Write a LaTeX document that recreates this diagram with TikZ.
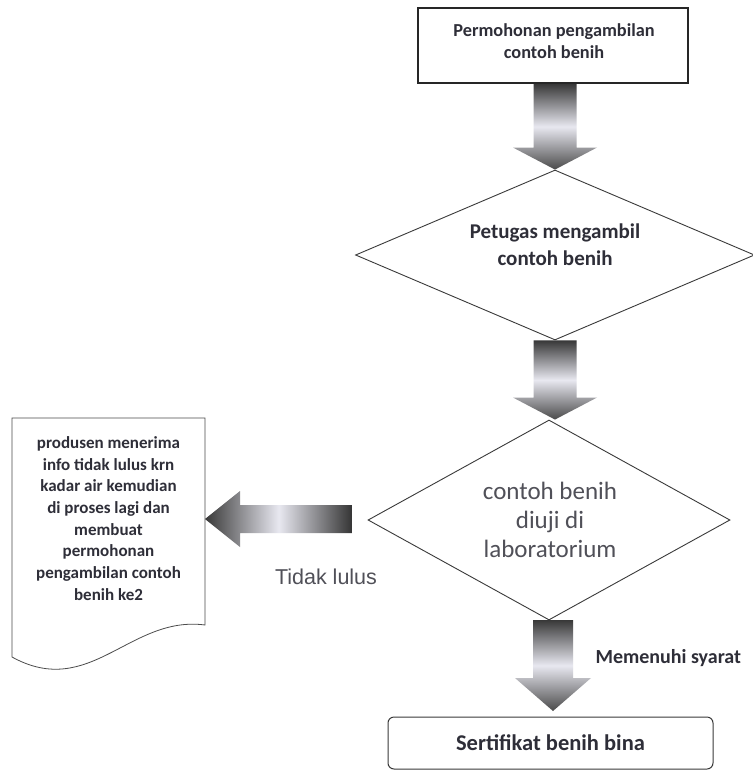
\documentclass[tikz,border=0pt]{standalone}
\usepackage{fontspec}
\setmainfont{Carlito}
\newfontfamily\arialish{Liberation Sans}
\usetikzlibrary{shapes.geometric,calc}

\definecolor{txt}{HTML}{2E2E38}
\definecolor{softtxt}{HTML}{505058}
\definecolor{edge}{HTML}{3A3A3A}
\definecolor{adark}{HTML}{383838}
\definecolor{alight}{HTML}{E8E8F0}
\definecolor{ahead}{HTML}{4A4A4A}

% shaded block arrow pointing down: start, tip, shaft half width, head half width, head length
\newcommand{\blockdown}[5]{%
  \shade[top color=adark, bottom color=ahead, middle color=alight]
    ($(#1)+(-#3,0)$) -- ($(#1)+(#3,0)$) -- ($(#2)+(#3,-#5)$) -- ($(#2)+(#4,-#5)$)
    -- (#2) -- ($(#2)+(-#4,-#5)$) -- ($(#2)+(-#3,-#5)$) -- cycle;}

\begin{document}
\begin{tikzpicture}[x=1pt, y=-1pt,
  boldtext/.style={font=\bfseries\fontsize{17}{21.7}\selectfont, text=txt, align=center},
  bigtext/.style={font=\fontsize{25}{29}\selectfont, text=softtxt, align=center},
  decision/.style={draw=edge, line width=0.9pt, shape=diamond, inner sep=0pt}]
\useasboundingbox (0,0) rectangle (753,772);
\fill[white] (0,0) rectangle (753,772);

% request box
\node[draw=black!85, line width=1.5pt, minimum width=270pt, minimum height=75pt] (req) at (553,45.5) {};
\node[boldtext, font=\bfseries\fontsize{18.3}{22}\selectfont] (reqtext) at (554,41) {Permohonan pengambilan\\contoh benih};

% officer takes the sample
\node[decision, minimum width=399pt, minimum height=170pt] (take) at (555,255) {};
\node[boldtext, font=\bfseries\fontsize{21}{27}\selectfont] (taketext) at (555,245) {Petugas mengambil\\contoh benih};

% laboratory test
\node[decision, minimum width=362pt, minimum height=200pt] (lab) at (549,520) {};
\node[bigtext] (labtext) at (550,520) {contoh benih\\diuji di\\laboratorium};

% certificate
\node[draw=edge, line width=1pt, rounded corners=6pt, minimum width=325pt,
      minimum height=52pt, boldtext, font=\bfseries\fontsize{22.5}{27}\selectfont] (cert) at (550.5,743) {Sertifikat benih bina};

% document for the failed case
\draw[draw=black!70, line width=0.8pt] (12,418) -- (205,418) -- (205,625)
  .. controls (130,615) and (90,700) .. (12,657) -- cycle;
\node[boldtext] (doc) at (108.5,518.5) {produsen menerima\\info tidak lulus krn\\kadar air kemudian\\di proses lagi dan\\membuat\\permohonan\\pengambilan contoh\\benih ke2};
\coordinate (docR) at (205,519);

% flow arrows
\blockdown{take.north |- req.south}{take.north}{21.5}{42}{22}
\blockdown{take.south}{take.north |- lab.north}{21.5}{42}{22}
\blockdown{553,620}{553,711}{20}{38}{33}

% failed branch arrow
\coordinate (lstart) at ($(lab.west)+(-15,-1)$);
\shade[left color=adark, right color=black!80, middle color=alight]
  ($(lstart)+(0,-14)$) -- ($(docR |- lstart)+(35,-14)$) -- ($(docR |- lstart)+(35,-28)$)
  -- (docR |- lstart) -- ($(docR |- lstart)+(35,28)$) -- ($(docR |- lstart)+(35,14)$)
  -- ($(lstart)+(0,14)$) -- cycle;

\node[font=\arialish\fontsize{21.5}{25}\selectfont, text=softtxt] (fail) at (326,577) {Tidak lulus};
\node[boldtext, font=\bfseries\fontsize{20}{24}\selectfont, anchor=west] (pass) at (592,658) {Memenuhi syarat};
\end{tikzpicture}
\end{document}
